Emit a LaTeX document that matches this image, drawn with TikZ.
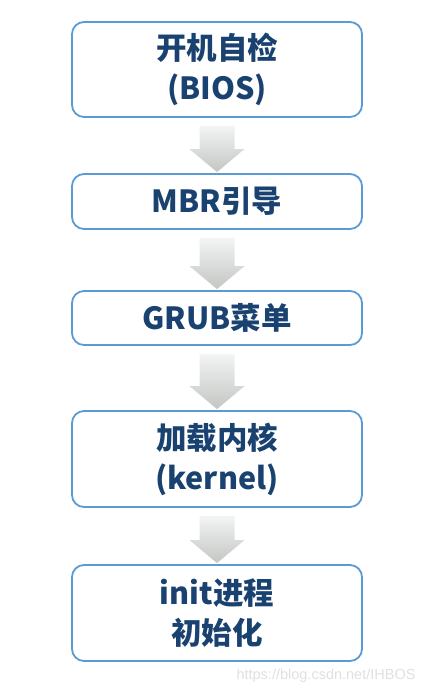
\documentclass[tikz,border=0pt]{standalone}
\usepackage{fontspec}
\newfontfamily\cjk[BoldFont={Noto Sans CJK SC Black}]{Noto Sans CJK SC}
\setsansfont{Liberation Sans}
\usetikzlibrary{calc}
\definecolor{boxline}{HTML}{5B9BD5}
\definecolor{boxtext}{HTML}{1A4270}
\definecolor{arrtop}{HTML}{F2F4F5}
\definecolor{arrbot}{HTML}{C4C6C3}
\definecolor{wm}{HTML}{E0E0E0}
\tikzset{
  box/.style={draw=boxline, line width=1.8pt, fill=white, rounded corners=12pt,
    minimum width=290pt, align=center, text=boxtext,
    font=\cjk\bfseries\fontsize{30.5}{40}\selectfont, inner sep=0pt},
  flowarrow/.style={top color=arrtop, bottom color=arrbot, draw=none},
}
\newcommand{\downarrowbetween}[2]{%
  \path[flowarrow]
    ($(#1.south)+(-17.5,8)$) -- ($(#1.south)+(17.5,8)$) --
    ($(#2.north)+(17.5,-24)$) -- ($(#2.north)+(27.5,-24)$) --
    ($(#2.north)+(0,-1)$) --
    ($(#2.north)+(-27.5,-24)$) -- ($(#2.north)+(-17.5,-24)$) -- cycle;}
\begin{document}
\begin{tikzpicture}[x=1pt,y=-1pt]
\useasboundingbox (0,0) rectangle (428,694);
\node[box, minimum height=95pt] (b1) at (217,69.5) {开机自检\\(BIOS)};
\node[box, minimum height=55pt] (b2) at (217,201.5) {MBR引导};
\node[box, minimum height=54pt] (b3) at (217,318) {GRUB菜单};
\node[box, minimum height=96pt] (b4) at (217,459) {加载内核\\(kernel)};
\node[box, minimum height=96pt] (b5) at (217,613) {init进程\\初始化};
\downarrowbetween{b1}{b2}
\downarrowbetween{b2}{b3}
\downarrowbetween{b3}{b4}
\downarrowbetween{b4}{b5}
\node[text=wm, font=\sffamily\fontsize{14.5}{16}\selectfont, anchor=east] (wmark) at (419,676) {https://blog.csdn.net/IHBOS};
\end{tikzpicture}
\end{document}
